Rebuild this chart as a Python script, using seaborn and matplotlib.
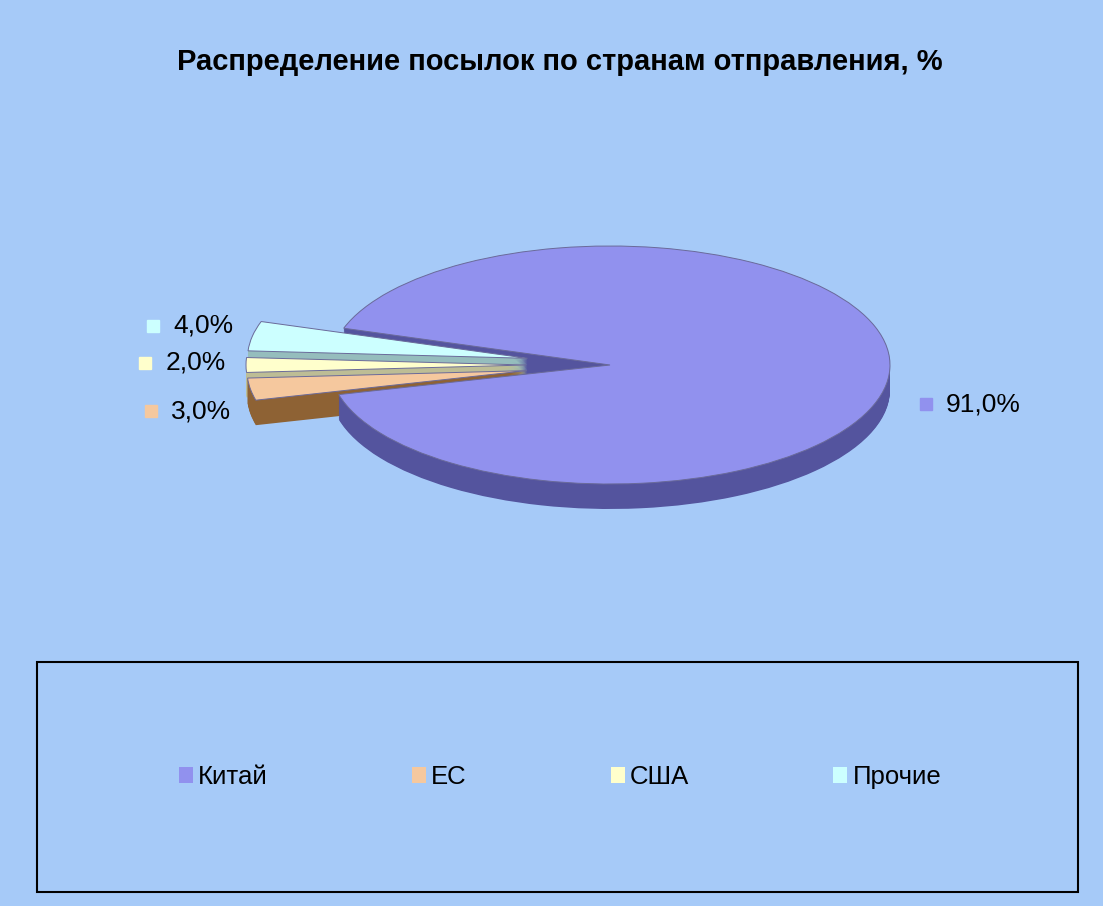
import numpy as np
import matplotlib
matplotlib.use("Agg")
import matplotlib.pyplot as plt
import seaborn as sns
from matplotlib.patches import Patch, Rectangle

# ---- data ----
categories = ["Китай", "ЕС", "США", "Прочие"]
shares = [91.0, 3.0, 2.0, 4.0]
value_labels = ["91,0%", "3,0%", "2,0%", "4,0%"]
title = "Распределение посылок по странам отправления, %"

# ---- style ----
colors = ["#9191EE", "#F5C89E", "#FFFFCC", "#CCFFFF"]
side_colors = ["#54549E", "#8E6234", "#BDBD95", "#95BDBD"]
explode = [0, 0.3, 0.3, 0.3]
bg = "#A6CAF8"

sns.set_theme(style="white")
plt.rcParams["font.family"] = ["Liberation Sans", "DejaVu Sans"]
plt.rcParams["text.color"] = "black"

W, H = 1103, 906
fig = plt.figure(figsize=(W / 100, H / 100), dpi=100, facecolor=bg)
cx, cy = 610, 365     # pie centre in pixels (from top)
rx, ry = 280, 119     # ellipse radii in pixels
ax = fig.add_axes([0, 0, 1, 1])
ax.patch.set_alpha(0)

startangle = 162
depth = 25 / ry
N = 30
for i in range(N):
    off = -depth * (1 - i / N)
    ax.pie(shares, explode=explode, colors=side_colors, startangle=startangle,
           counterclock=False, center=(0, off), frame=True,
           wedgeprops=dict(linewidth=0))
wedges, _ = ax.pie(shares, explode=explode, colors=colors, startangle=startangle,
                   counterclock=False, center=(0, 0), frame=True,
                   wedgeprops=dict(linewidth=0.7, edgecolor="#6A6A9A"))

ax.set_aspect("auto")
ax.set_xlim(-cx / rx, (W - cx) / rx)
ax.set_ylim(-(H - cy) / ry, cy / ry)
ax.set_axis_off()

# data labels
for w, lab, col, ex in zip(wedges, value_labels, colors, explode):
    th = np.deg2rad((w.theta1 + w.theta2) / 2)
    x0, y0 = w.center
    if ex > 0:
        d = 1.36
        s = np.sin(th)
        lx = x0 + d * np.cos(th)
        ly = y0 + d * s * (1.7 if s < 0 else 1.0) + 0.02
    else:
        d = 1.13
        lx, ly = x0 + d * np.cos(th), y0 + d * np.sin(th) - 1.4 * depth
    ax.plot([lx], [ly], marker="s", markersize=8, color=col, linestyle="none")
    ax.text(lx + 20 / rx, ly, lab, fontsize=19, color="black",
            ha="left", va="center")

# title
fig.text(560 / W, 1 - 62 / H, title, fontsize=21, fontweight="bold",
         ha="center", va="center", color="black")

# legend box
fig.patches.append(Rectangle((37 / W, 1 - 892 / H), (1078 - 37) / W, (892 - 662) / H,
                             transform=fig.transFigure, fill=False,
                             edgecolor="black", linewidth=1.5))
handles = [Patch(facecolor=c, edgecolor="none") for c in colors]
fs = 18.5
fig.legend(handles, categories, loc="center", bbox_to_anchor=(560 / W, 1 - 777 / H),
           ncol=4, frameon=False, fontsize=fs, handlelength=0.55, handleheight=0.55,
           handletextpad=0.2, columnspacing=144 / (fs * 100 / 72), labelcolor="black")

fig.savefig("out.png", dpi=100, facecolor=bg)
